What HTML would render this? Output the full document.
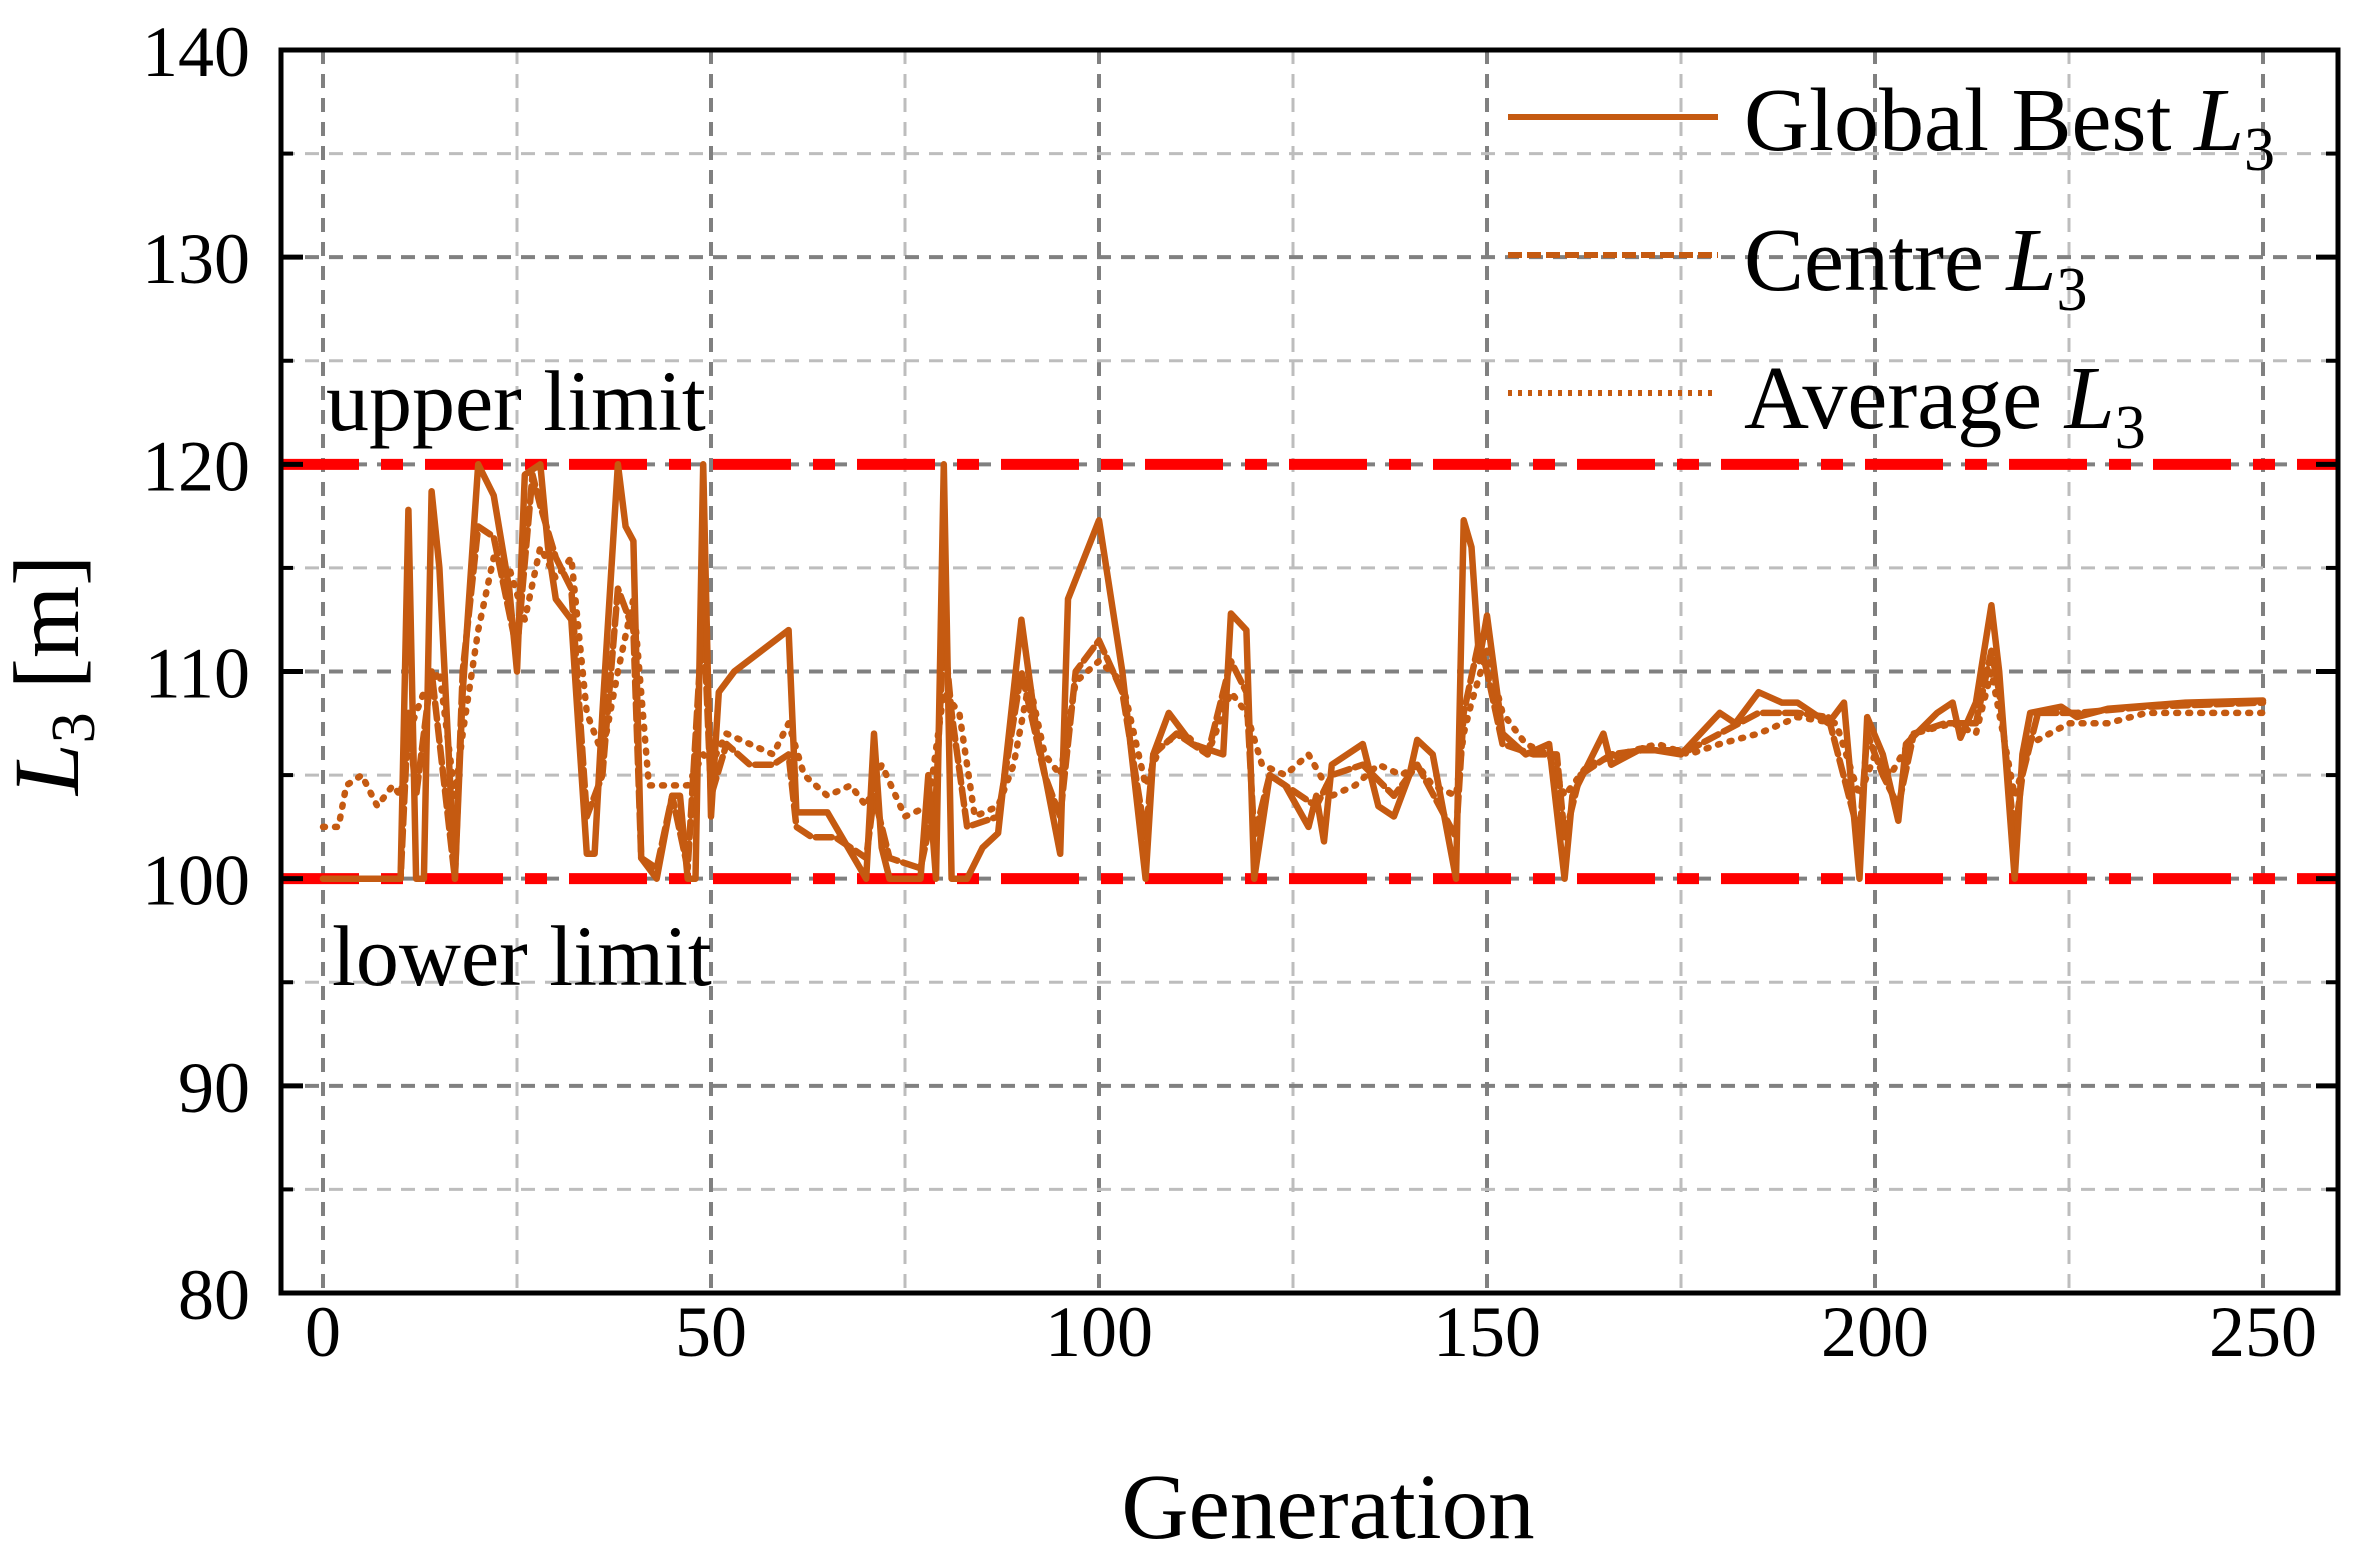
<!DOCTYPE html>
<html><head><meta charset="utf-8"><style>
html,body{margin:0;padding:0;background:#fff}
svg{display:block}
text{font-family:"Liberation Serif",serif;fill:#000}
</style></head><body>
<svg id="chart" width="2353" height="1550" viewBox="0 0 2353 1550">
<g id="grid"></g>
<g id="limits"></g>
<g id="series"></g>
<g id="axes"></g>
<text x="326" y="430" font-size="86">upper limit</text>
<text x="332" y="985" font-size="86">lower limit</text>
<text x="1328" y="1538" font-size="93" text-anchor="middle">Generation</text>
<text transform="translate(78,675) rotate(-90)" font-size="93" text-anchor="middle"><tspan font-style="italic">L</tspan><tspan font-size="62" dy="16">3</tspan><tspan dy="-16"> [m]</tspan></text>
<g>
<line x1="1508" y1="117" x2="1718" y2="117" stroke="#c55a11" stroke-width="6"/>
<text x="1744" y="150" font-size="90">Global Best <tspan font-style="italic">L</tspan><tspan font-size="62" dy="20">3</tspan></text>
<line x1="1508" y1="255" x2="1718" y2="255" stroke="#c55a11" stroke-width="6" stroke-dasharray="14,5"/>
<text x="1744" y="290" font-size="90">Centre <tspan font-style="italic">L</tspan><tspan font-size="62" dy="20">3</tspan></text>
<line x1="1508" y1="393" x2="1718" y2="393" stroke="#c55a11" stroke-width="6" stroke-dasharray="4,6"/>
<text x="1744" y="428" font-size="90">Average <tspan font-style="italic">L</tspan><tspan font-size="62" dy="20">3</tspan></text>
</g>
</svg>
<script>
const bestGen=[0,10,11,12,13,14,15,17,18,20,22,24,25,26,28,29,30,32,34,35,36,38,39,40,41,43,45,46,47,48,49,50,51,53,60,61,65,70,71,72,73,77,78,79,80,81,83,85,87,90,92,95,96,100,103,106,107,109,112,116,117,119,120,122,124,127,128,129,130,134,136,138,140,141,143,146,147,148,149,150,152,155,158,160,161,165,166,170,175,180,182,185,188,190,194,196,198,199,201,203,204,208,210,211,213,215,216,218,219,220,224,226,230,240,250];
const bestVal=[100,100,117.8,100,100,118.7,115,100,109,120,118.5,114,110,119.5,120,116,113.5,112.5,101.2,101.2,108,120,117,116.3,101,100,104,104,100,100,120,103,109,110,112,103.2,103.2,100,107,101.5,100,100,105,100,120,100,100,101.5,102.2,112.5,107,101.2,113.5,117.3,110,100,106,108,106.5,106,112.8,112,100,105,104.5,102.5,104,101.8,105.5,106.5,103.5,103,105,106.7,106,100,117.3,116,110.5,112.7,107,106,106.5,100,104,107,105.5,106.3,106,108,107.5,109,108.5,108.5,107.5,108.5,100,107.8,106,102.8,106.5,108,108.5,106.8,108.5,113.2,110,100,106,108,108.3,107.8,108.2,108.5,108.6];
const centreGen=[0,10,11,12,14,17,18,20,22,25,27,28,30,32,34,36,38,40,41,43,45,47,49,50,52,55,58,60,61,63,66,70,71,73,77,79,80,81,83,87,90,93,95,97,100,103,106,107,110,114,117,119,120,122,126,128,130,134,138,141,146,147,149,150,152,156,159,160,162,166,170,176,180,185,190,194,198,199,201,203,205,209,213,215,216,218,219,221,226,235,250];
const centreVal=[100,100,108,104,110,100,110,117,116.5,111,119.5,118,115.5,114,103,105,114,112,101,100.5,104,100.5,113,104,106.5,105.5,105.5,106,102.5,102,102,101,104,101,100.5,104,112,108,102.5,103,110,105,103,110,111.5,109,102,106,107,106,110.5,109,102,105,104,103.5,105,105.5,104,105.5,102,108,111.5,110,106.5,106,106,102,105,106,106.2,106.2,107,108,108,107.8,102,107,105,103.5,107,107.5,107.5,111,109,102,105,108,108,108.3,108.5];
const avgGen=[0,2,3,5,7,9,10,11,13,15,17,18,20,22,24,26,28,30,32,34,36,38,40,42,45,47,49,50,52,55,58,60,62,65,68,70,72,75,78,80,82,84,87,89,91,93,95,97,100,103,106,108,111,114,117,119,121,124,127,130,133,136,139,141,143,146,147,148,150,152,155,158,160,163,167,172,176,180,185,190,195,198,200,202,205,210,213,215,217,218,220,225,230,235,240,245,250];
const avgVal=[102.5,102.5,104.5,105,103.5,104.5,104,107,109,110,104,107,112,115.5,115,112.5,116,114.5,115.5,108,106,110,113.5,104.5,104.5,104.5,106,105.5,107,106.5,106,107.5,105,104,104.5,103.5,105.5,103,103.5,109,108,103,103.5,105.5,109.5,106,105,109.5,110.5,109.5,104.5,106.5,107,106,109,108,105.5,105,106,104,104.5,105.5,105,105.5,104.5,104,107,108.5,111,108,106.5,106,104,105.5,106,106.5,106,106.5,107,107.8,107.5,104,106,105,107,107.5,107,110,106,104,106.5,107.5,107.5,108,108,108,108];
const xTicks=[0,50,100,150,200,250];
const yTicks=[80,90,100,110,120,130,140];
const limitVals=[120,100];

const NS="http://www.w3.org/2000/svg";
const L=281,T=50,R=2338,B=1293;
const xs=g=>323+(g/250)*(2263-323);
const ys=v=>B-(v-80)/60*(B-T);
function mk(tag,attrs,parent){const e=document.createElementNS(NS,tag);for(const k in attrs)e.setAttribute(k,attrs[k]);parent.appendChild(e);return e;}
const grid=document.getElementById('grid'),axes=document.getElementById('axes'),ser=document.getElementById('series'),lim=document.getElementById('limits');
for(let g=0;g<=250;g+=25){const major=g%50===0;
 const l=mk('line',{x1:xs(g),x2:xs(g),y1:T,y2:B,stroke:major?'#808080':'#bdbdbd','stroke-width':major?4:3,'stroke-dasharray':'14,10'},grid);
 
 }
for(let v=85;v<140;v+=5){const major=v%10===0;
 const l=mk('line',{x1:L,x2:R,y1:ys(v),y2:ys(v),stroke:major?'#808080':'#bdbdbd','stroke-width':major?4:3,'stroke-dasharray':'14,10'},grid);
 
 }
limitVals.forEach(v=>{const l=mk('line',{x1:L,x2:R,y1:ys(v),y2:ys(v),stroke:'#ff0000','stroke-width':11,'stroke-dasharray':'78,22,22,22'},lim);
 
 });
function path(gs,vs,dash,name){const d=gs.map((g,i)=>(i?'L':'M')+xs(g).toFixed(1)+' '+ys(vs[i]).toFixed(1)).join(' ');
 const p=mk('path',{d:d,fill:'none',stroke:'#c55a11','stroke-width':6.5,'stroke-linejoin':'round','stroke-linecap':'round'},ser);
 if(dash)p.setAttribute('stroke-dasharray',dash);
 
 }
path(avgGen,avgVal,'2,10','series-average');
path(centreGen,centreVal,'16,6','series-centre');
path(bestGen,bestVal,null,'series-global-best');
const f=mk('rect',{x:L,y:T,width:R-L,height:B-T,fill:'none',stroke:'#000','stroke-width':5},axes);


yTicks.forEach(v=>{const y=ys(v);
 const a=mk('line',{x1:L,x2:L+22,y1:y,y2:y,stroke:'#000','stroke-width':5},axes);
 
 
 const b=mk('line',{x1:R-22,x2:R,y1:y,y2:y,stroke:'#000','stroke-width':5},axes);
 
 
 const t=mk('text',{x:250,y:y+26,'font-size':72,'text-anchor':'end'},axes);t.textContent=v;
 
 });
for(let v=85;v<140;v+=10){const y=ys(v);
 const a=mk('line',{x1:L,x2:L+12,y1:y,y2:y,stroke:'#000','stroke-width':4},axes);
 
 
 const b=mk('line',{x1:R-12,x2:R,y1:y,y2:y,stroke:'#000','stroke-width':4},axes);
 
 }
xTicks.forEach(g=>{const x=xs(g);
 const t=mk('text',{x:x,y:1356,'font-size':72,'text-anchor':'middle'},axes);t.textContent=g;
 
 });
</script>
</body></html>
